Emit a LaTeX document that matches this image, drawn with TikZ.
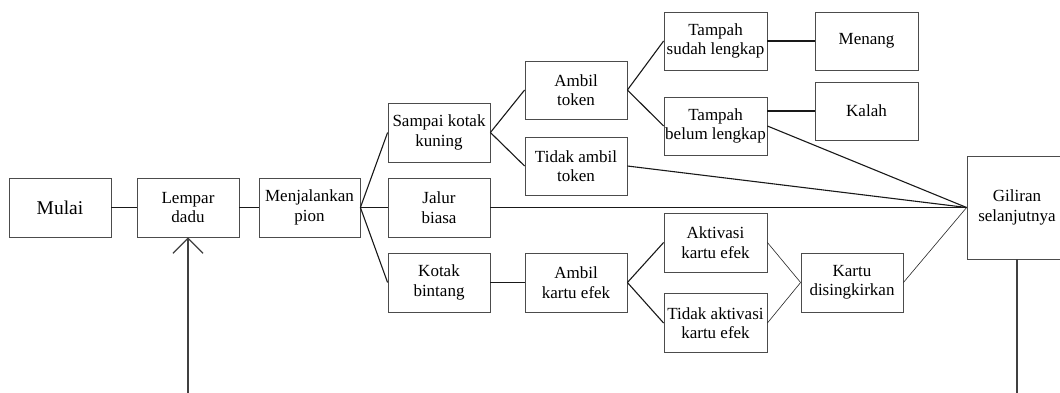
\documentclass[tikz,border=0pt]{standalone}
\usepackage{fontspec}
\setmainfont{Liberation Serif}
\usetikzlibrary{arrows.meta}
\begin{document}
\begin{tikzpicture}[x=1pt,y=-1pt,
  box/.style={draw=black!70,line width=0.8pt,fill=white,rectangle,align=center,
    minimum width=102pt,minimum height=59pt,inner sep=1pt,
    font=\fontsize{17}{19.5}\selectfont},
  conn/.style={line width=1.1pt,black!90},
  thin/.style={line width=0.6pt,black!85},
  fb/.style={line width=1.3pt,black!75,-{Straight Barb[length=15pt,width=30pt,line width=1.3pt]}}]
\useasboundingbox (0,0) rectangle (1060,392);
\clip (0,0) rectangle (1060,392);
\fill[white] (0,0) rectangle (1060,392);
\node[box,font=\fontsize{19.5}{22}\selectfont] (mulai) at (60,207.5) {Mulai};
\node[box] (lempar) at (188,207.5) {Lempar\\dadu};
\node[box,minimum width=101pt] (jalan) at (309.5,207.5) {Menjalankan\\pion};
\node[box] (sampai) at (439,132.5) {Sampai kotak\\kuning};
\node[box] (jalur) at (439,207.5) {Jalur\\biasa};
\node[box] (bintang) at (439,282.5) {Kotak\\bintang};
\node[box,minimum height=58pt] (ambil) at (576,90) {Ambil\\token};
\node[box,minimum height=58pt] (tidakambil) at (576,166) {Tidak ambil\\token};
\node[box] (ambilkartu) at (576,282.5) {Ambil\\kartu efek};
\node[box,minimum width=103pt,minimum height=58pt] (sudah) at (715.5,41) {Tampah\\sudah lengkap};
\node[box,minimum width=103pt,minimum height=58pt] (belum) at (715.5,126) {Tampah\\belum lengkap};
\node[box,minimum width=103pt,minimum height=58pt] (menang) at (866.5,41) {Menang};
\node[box,minimum width=103pt,minimum height=58pt] (kalah) at (866.5,111) {Kalah};
\node[box,minimum width=103pt] (aktivasi) at (715.5,242.5) {Aktivasi\\kartu efek};
\node[box,minimum width=103pt] (tidakaktivasi) at (715.5,323) {Tidak aktivasi\\kartu efek};
\node[box] (kartu) at (852,282.5) {Kartu\\disingkirkan};
\node[box,minimum width=100pt,minimum height=103pt] (giliran) at (1017,207.5) {Giliran\\selanjutnya};
\draw[conn] (mulai) -- (lempar);
\draw[conn] (lempar) -- (jalan);
\draw[conn] (jalan.east) -- (sampai.west);
\draw[conn] (jalan.east) -- (jalur.west);
\draw[conn] (jalan.east) -- (bintang.west);
\draw[conn] (sampai.east) -- (ambil.west);
\draw[conn] (sampai.east) -- (tidakambil.west);
\draw[conn] (ambil.east) -- (sudah.west);
\draw[conn] (ambil.east) -- (belum.west);
\draw[conn] (sudah) -- (menang);
\draw[conn] (kalah.west -| belum.east) -- (kalah.west);
\draw[conn] (belum.east) -- (giliran.west);
\draw[conn] (tidakambil.east) -- (giliran.west);
\draw[conn] (jalur.east) -- (giliran.west);
\draw[conn] (bintang) -- (ambilkartu);
\draw[conn] (ambilkartu.east) -- (aktivasi.west);
\draw[conn] (ambilkartu.east) -- (tidakaktivasi.west);
\draw[thin] (aktivasi.east) -- (kartu.west);
\draw[thin] (tidakaktivasi.east) -- (kartu.west);
\draw[thin] (kartu.east) -- (giliran.west);
\draw[fb] (giliran.south) -- ([yshift=-160pt]giliran.south) -| (lempar.south);
\end{tikzpicture}
\end{document}
